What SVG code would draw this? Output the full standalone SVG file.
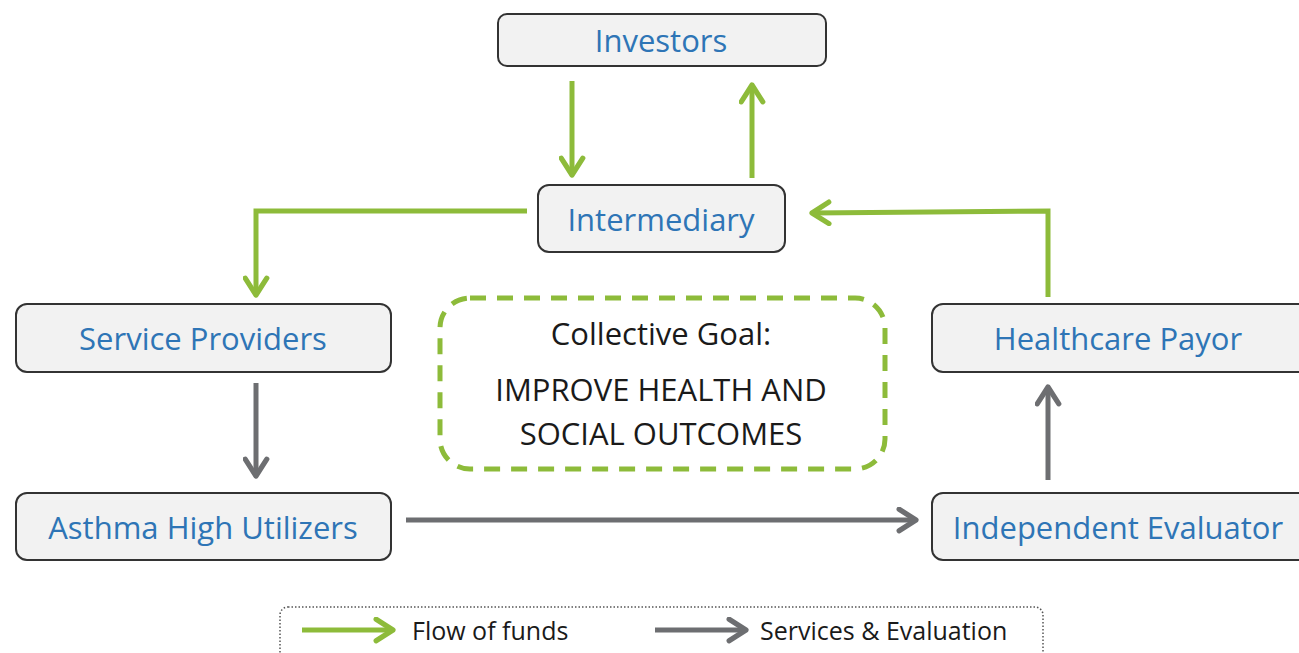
<svg xmlns="http://www.w3.org/2000/svg" width="1299" height="653" viewBox="0 0 1299 653">
<style>
.box{fill:#F2F2F2;stroke:#333333;stroke-width:2}
.lbl{font-family:"Open Sans",Lato,sans-serif;font-size:31px;fill:#2E75B6;text-anchor:middle;dominant-baseline:central}
.goal{font-family:"Open Sans",Lato,sans-serif;font-size:31px;fill:#1A1A1A;text-anchor:middle;dominant-baseline:central}
.leg{font-family:"Open Sans",Lato,sans-serif;font-size:25px;fill:#1A1A1A;dominant-baseline:central}
.g{fill:none;stroke:#8DBB3A;stroke-width:5}
.k{fill:none;stroke:#6D6E71;stroke-width:5}
</style>
<defs>
<marker id="ag" viewBox="0 0 12 12" refX="10" refY="6" markerWidth="5.4" markerHeight="5.4" orient="auto" markerUnits="strokeWidth">
<path d="M2.5,1.2 L10,6 L2.5,10.8" fill="none" stroke="#8DBB3A" stroke-width="2.3" stroke-linecap="round" stroke-linejoin="round"/>
</marker>
<marker id="ak" viewBox="0 0 12 12" refX="10" refY="6" markerWidth="5.4" markerHeight="5.4" orient="auto" markerUnits="strokeWidth">
<path d="M2.5,1.2 L10,6 L2.5,10.8" fill="none" stroke="#6D6E71" stroke-width="2.3" stroke-linecap="round" stroke-linejoin="round"/>
</marker>
</defs>
<rect width="1299" height="653" fill="#FFFFFF"/>
<g id="connectors">
<path class="g" d="M572,81 V175" marker-end="url(#ag)"/>
<path class="g" d="M752,178 V85" marker-end="url(#ag)"/>
<path class="g" d="M527,211 H256 V295" marker-end="url(#ag)"/>
<path class="g" d="M1048,297 V211 L812,213" marker-end="url(#ag)"/>
<path class="k" d="M256,383 V476" marker-end="url(#ak)"/>
<path class="k" d="M406,520 H916" marker-end="url(#ak)"/>
<path class="k" d="M1048,480 V387" marker-end="url(#ak)"/>
</g>
<g id="investors"><rect class="box" x="498" y="14" width="328" height="52" rx="9"/><text class="lbl" x="661" y="40">Investors</text></g>
<g id="intermediary"><rect class="box" x="538" y="185" width="247" height="67" rx="11"/><text class="lbl" x="661" y="219">Intermediary</text></g>
<g id="service-providers"><rect class="box" x="16" y="304" width="375" height="68" rx="11"/><text class="lbl" x="203" y="338">Service Providers</text></g>
<g id="asthma"><rect class="box" x="16" y="493" width="375" height="67" rx="11"/><text class="lbl" x="203" y="527">Asthma High Utilizers</text></g>
<g id="payor"><rect class="box" x="932" y="304" width="390" height="68" rx="11"/><text class="lbl" x="1118" y="338">Healthcare Payor</text></g>
<g id="evaluator"><rect class="box" x="932" y="493" width="390" height="67" rx="11"/><text class="lbl" x="1118" y="527">Independent Evaluator</text></g>
<g id="goal">
<rect x="440" y="298" width="445" height="171" rx="30" fill="none" stroke="#8DBB3A" stroke-width="5" stroke-dasharray="16,11"/>
<text class="goal" x="661" y="333">Collective Goal:</text>
<text class="goal" x="661" y="389">IMPROVE HEALTH AND</text>
<text class="goal" x="661" y="433">SOCIAL OUTCOMES</text>
</g>
<g id="legend">
<rect x="280" y="607" width="763" height="60" rx="8" fill="none" stroke="#555555" stroke-width="1.5" stroke-dasharray="1.5,2"/>
<path class="g" d="M302,630 H393" marker-end="url(#ag)"/>
<text class="leg" x="412" y="630">Flow of funds</text>
<path class="k" d="M655,630 H746" marker-end="url(#ak)"/>
<text class="leg" x="760" y="630">Services &amp; Evaluation</text>
</g>
</svg>
